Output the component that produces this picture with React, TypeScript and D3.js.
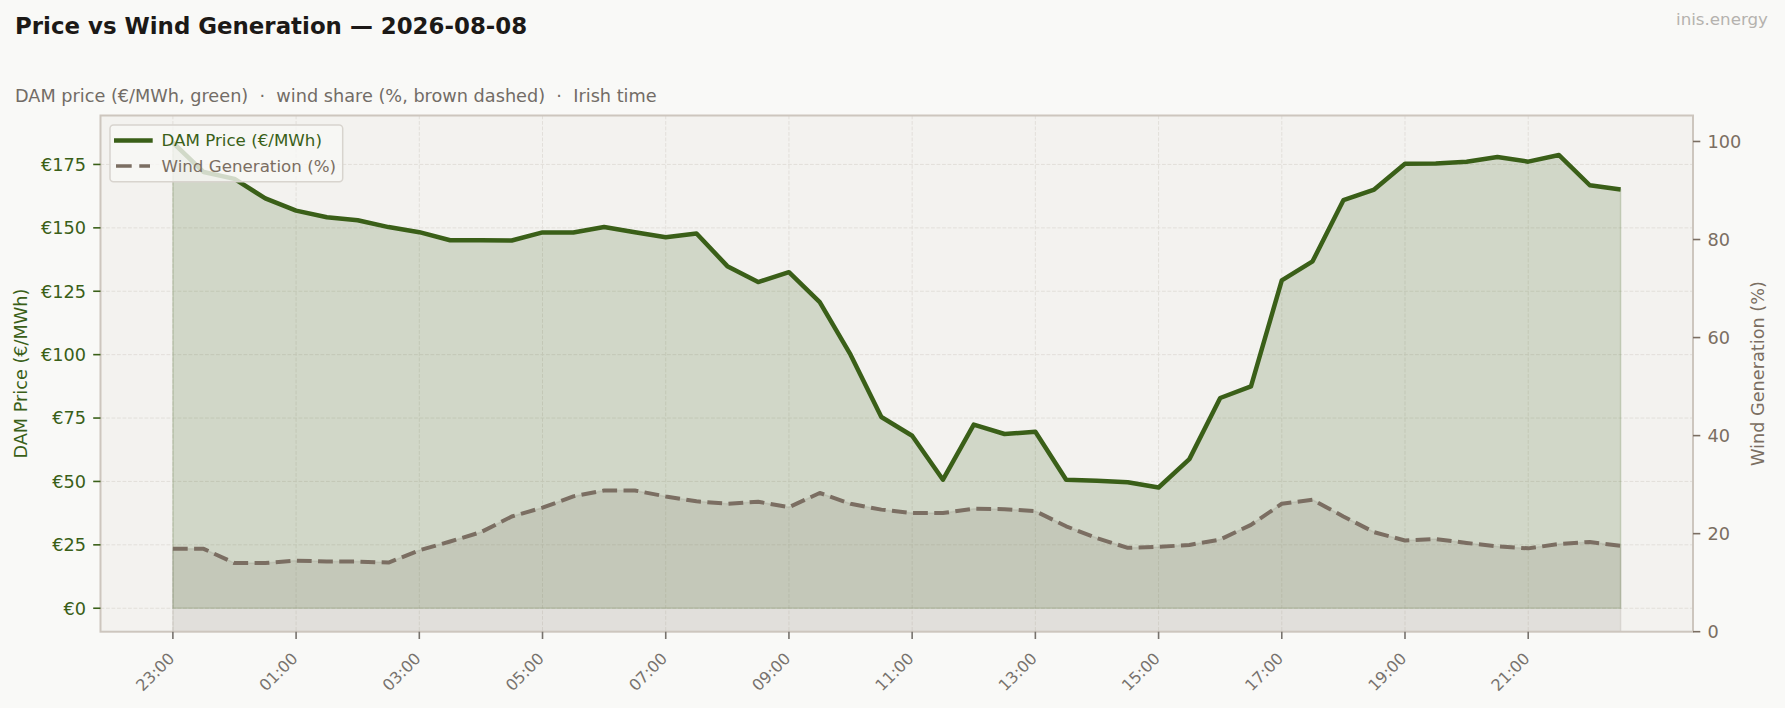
import React from "react";
import * as d3 from "d3";

const times = [
  "23:00", "23:30", "00:00", "00:30", "01:00", "01:30", "02:00", "02:30",
  "03:00", "03:30", "04:00", "04:30", "05:00", "05:30", "06:00", "06:30",
  "07:00", "07:30", "08:00", "08:30", "09:00", "09:30", "10:00", "10:30",
  "11:00", "11:30", "12:00", "12:30", "13:00", "13:30", "14:00", "14:30",
  "15:00", "15:30", "16:00", "16:30", "17:00", "17:30", "18:00", "18:30",
  "19:00", "19:30", "20:00", "20:30", "21:00", "21:30", "22:00", "22:30",
];

const price = [
  183.6, 172.0, 169.3, 161.6, 156.8, 154.2, 153.0, 150.3,
  148.3, 145.1, 145.1, 145.0, 148.2, 148.2, 150.3, 148.3,
  146.3, 147.8, 134.9, 128.6, 132.5, 120.7, 100.0, 75.4,
  68.0, 50.7, 72.4, 68.7, 69.6, 50.7, 50.3, 49.7,
  47.6, 58.8, 82.9, 87.5, 129.3, 136.8, 160.9, 165.1,
  175.3, 175.4, 176.1, 177.9, 176.1, 178.7, 166.8, 165.1,
];

const wind = [
  16.9, 16.9, 14.0, 14.0, 14.5, 14.3, 14.3, 14.1,
  16.6, 18.4, 20.3, 23.5, 25.3, 27.6, 28.8, 28.8,
  27.6, 26.6, 26.1, 26.5, 25.4, 28.3, 26.1, 24.9,
  24.2, 24.2, 25.1, 25.0, 24.6, 21.5, 19.1, 17.1,
  17.3, 17.7, 18.8, 21.8, 26.1, 26.9, 23.5, 20.3,
  18.6, 18.9, 18.1, 17.4, 17.0, 17.9, 18.3, 17.5,
];

const xTickLabels = ["23:00", "01:00", "03:00", "05:00", "07:00", "09:00", "11:00", "13:00", "15:00", "17:00", "19:00", "21:00"];
const priceTicks = [0, 25, 50, 75, 100, 125, 150, 175];
const windTicks = [0, 20, 40, 60, 80, 100];

const TITLE = "Price vs Wind Generation — 2026-08-08";
const SUBTITLE = "DAM price (€/MWh, green)  ·  wind share (%, brown dashed)  ·  Irish time";
const BRAND = "inis.energy";
const PRICE_LABEL = "DAM Price (€/MWh)";
const WIND_LABEL = "Wind Generation (%)";

const W = 1785;
const H = 708;
const L = 100.5, R = 1693, T = 115.5, B = 631.7;
const GREEN = "#3a5f18";
const BROWN = "#7b6e62";
const FONT = "'DejaVu Sans', sans-serif";

export default function App() {
  const hours = times.map((_, i) => i * 0.5);
  const x = d3.scaleLinear().domain([-1.175, 24.675]).range([L, R]);
  const yL = d3.scaleLinear().domain([-9.25, 194.3]).range([B, T]);
  const yR = d3.scaleLinear().domain([0, 105.3]).range([B, T]);

  const idx = d3.range(times.length);
  const priceLine = d3.line<number>().x((i) => x(hours[i])).y((i) => yL(price[i]));
  const priceArea = d3.area<number>().x((i) => x(hours[i])).y0(yL(0)).y1((i) => yL(price[i]));
  const windLine = d3.line<number>().x((i) => x(hours[i])).y((i) => yR(wind[i]));
  const windArea = d3.area<number>().x((i) => x(hours[i])).y0(yR(0)).y1((i) => yR(wind[i]));

  const tickX = (lab: string) => x(hours[times.indexOf(lab)]);

  return (
    <svg width={W} height={H} style={{ position: "absolute", left: 0, top: 0, background: "#f9f9f7" }} fontFamily={FONT}>
      <rect x={0} y={0} width={W} height={H} fill="#f9f9f7" />
      <text x={15} y={33.5} fontSize={22.9} fontWeight="bold" fill="#1c1917">{TITLE}</text>
      <text x={15} y={101.5} fontSize={17.7} fill="#726c66" style={{ whiteSpace: "pre" }}>{SUBTITLE}</text>
      <text x={1768} y={25} fontSize={16.7} fill="#b5b2ae" textAnchor="end">{BRAND}</text>

      <defs>
        <clipPath id="plotclip">
          <rect x={L} y={T} width={R - L} height={B - T} />
        </clipPath>
      </defs>

      <rect x={L} y={T} width={R - L} height={B - T} fill="#f3f2ef" />

      {/* grid */}
      <g stroke="#e2dfda" strokeWidth={1} strokeDasharray="3.8,1.7">
        {xTickLabels.map((lab) => (
          <line key={"gx" + lab} x1={tickX(lab)} x2={tickX(lab)} y1={T} y2={B} />
        ))}
        {priceTicks.map((v) => (
          <line key={"gy" + v} x1={L} x2={R} y1={yL(v)} y2={yL(v)} />
        ))}
      </g>

      <g clipPath="url(#plotclip)">
        <path d={priceArea(idx) || ""} fill={GREEN} fillOpacity={0.18} stroke={GREEN} strokeOpacity={0.18} strokeWidth={1.5} />
        <path d={priceLine(idx) || ""} fill="none" stroke={GREEN} strokeWidth={4.5} strokeLinejoin="round" />
        <path d={windArea(idx) || ""} fill={BROWN} fillOpacity={0.14} stroke={BROWN} strokeOpacity={0.14} strokeWidth={1.5} />
        <path d={windLine(idx) || ""} fill="none" stroke={BROWN} strokeWidth={4} strokeDasharray="14.8,6.4" strokeLinejoin="round" />
      </g>

      {/* frame */}
      <rect x={L} y={T} width={R - L} height={B - T} fill="none" stroke="#cdc6be" strokeWidth={2} />

      {/* left axis */}
      {priceTicks.map((v) => (
        <g key={"lt" + v}>
          <line x1={L - 7.3} x2={L} y1={yL(v)} y2={yL(v)} stroke={GREEN} strokeWidth={1.6} />
          <text x={L - 14.6} y={yL(v)} dy="0.36em" textAnchor="end" fontSize={17.7} fill={GREEN}>{"€" + v}</text>
        </g>
      ))}
      <text transform={`translate(26.5,${(T + B) / 2}) rotate(-90)`} textAnchor="middle" fontSize={17.7} fill={GREEN}>{PRICE_LABEL}</text>

      {/* right axis */}
      {windTicks.map((v) => (
        <g key={"rt" + v}>
          <line x1={R} x2={R + 7.3} y1={yR(v)} y2={yR(v)} stroke={BROWN} strokeWidth={1.6} />
          <text x={R + 14.6} y={yR(v)} dy="0.36em" textAnchor="start" fontSize={17.7} fill={BROWN}>{String(v)}</text>
        </g>
      ))}
      <text transform={`translate(1764,${(T + B) / 2}) rotate(-90)`} textAnchor="middle" fontSize={17.7} fill={BROWN}>{WIND_LABEL}</text>

      {/* x axis */}
      {xTickLabels.map((lab) => (
        <g key={"xt" + lab}>
          <line x1={tickX(lab)} x2={tickX(lab)} y1={B} y2={B + 7.3} stroke="#77726d" strokeWidth={1.6} />
          <text transform={`translate(${tickX(lab) + 2.5},${659.5}) rotate(-45)`} textAnchor="end" fontSize={16} fill="#77726d">{lab}</text>
        </g>
      ))}

      {/* legend */}
      <g>
        <rect x={110} y={125} width={232.7} height={56.7} rx={3.5} fill="#f8f7f5" fillOpacity={0.8} stroke="#d8d4ce" strokeWidth={1.5} />
        <line x1={114} x2={152.7} y1={140.5} y2={140.5} stroke={GREEN} strokeWidth={4.5} />
        <text x={161.5} y={146.3} fontSize={16.7} fill={GREEN}>{PRICE_LABEL}</text>
        <line x1={116} x2={150} y1={166} y2={166} stroke={BROWN} strokeWidth={3.7} strokeDasharray="15.7,7.6" />
        <text x={161.5} y={172} fontSize={16.7} fill={BROWN}>{WIND_LABEL}</text>
      </g>
    </svg>
  );
}
